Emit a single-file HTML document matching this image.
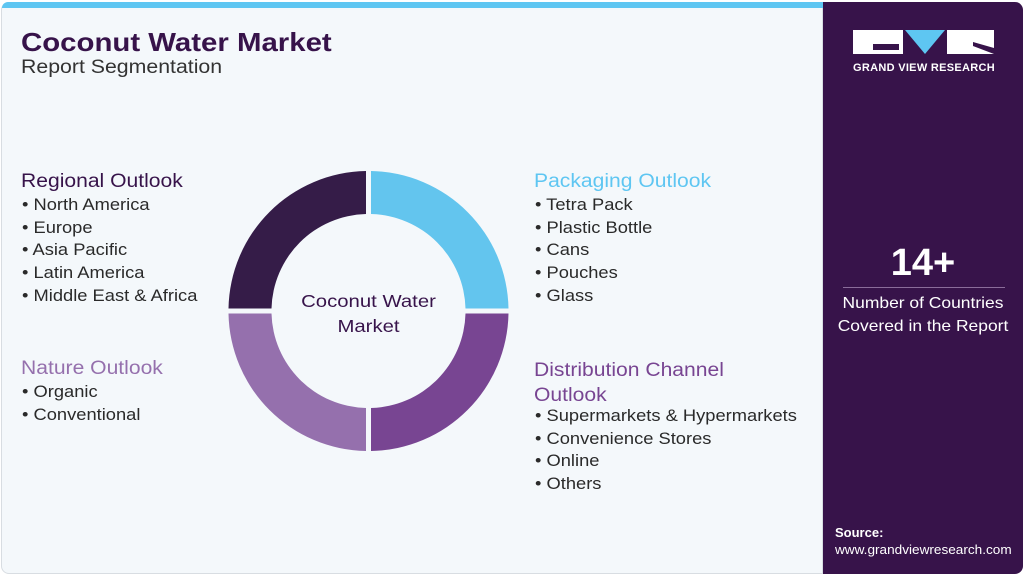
<!DOCTYPE html>
<html><head><meta charset="utf-8"><style>
body{margin:0;width:1025px;height:576px;overflow:hidden;background:#fff;font-family:"Liberation Sans",sans-serif;}
.main{position:absolute;left:1px;top:2px;width:822px;height:572px;background:#f4f8fb;border:1px solid #d8dde2;border-radius:8px 0 0 8px;box-sizing:border-box;}
.bar{position:absolute;left:2px;top:2px;width:821px;height:6px;background:#5ec6f2;border-radius:6px 0 0 0;}
.side{position:absolute;left:823px;top:2px;width:200px;height:572px;background:#37134a;border-radius:0 8px 8px 0;}
.t{position:absolute;white-space:nowrap;transform-origin:0 0;}
.s{transform:scaleX(1.11);}
.h{font-size:19px;}
.li{font-size:16.5px;color:#2a2a2a;line-height:22.7px;}
</style></head><body>
<div class="main"></div><div class="bar"></div>
<div class="side">
 <svg style="position:absolute;left:30px;top:28px" width="142" height="26">
  <path d="M0 0H50V24H0Z M20 14H46V20H20Z" fill="#fff" fill-rule="evenodd"/>
  <polygon points="52,0 92,0 72,24" fill="#5ec6f2"/>
  <path d="M94 0H141V24H94Z" fill="#fff"/>
  <polygon points="120,12 141,18 141,24 120,16" fill="#37134a"/>
 </svg>
 <div class="t" style="left:30px;top:60px;color:#fff;font-size:11px;font-weight:bold;letter-spacing:0.3px">GRAND VIEW RESEARCH</div>
 <div class="t" style="left:0;width:200px;text-align:center;top:240px;color:#fff;font-size:38px;font-weight:bold">14+</div>
 <div style="position:absolute;left:20px;width:162px;top:285px;border-top:1px solid #8a6c9a"></div>
 <div class="t" style="left:0;width:200px;text-align:center;top:290px;color:#fff;font-size:16px;line-height:23px;transform:scaleX(1.09);transform-origin:100px 0">Number of Countries<br>Covered in the Report</div>
 <div class="t" style="left:12px;top:523px;color:#fff;font-size:13px;font-weight:bold">Source:</div>
 <div class="t" style="left:12px;top:540px;color:#fff;font-size:13px;transform:scaleX(1.045)">www.grandviewresearch.com</div>
</div>
<div class="t" style="left:21px;top:27px;font-size:26px;font-weight:900;color:#37134a;transform:scaleX(1.13)">Coconut Water Market</div>
<div class="t" style="left:21px;top:57px;font-size:19px;color:#333;transform:scaleX(1.12)">Report Segmentation</div>

<div class="t h s" style="left:21px;top:171px;color:#37134a">Regional Outlook</div>
<div class="t li s" style="left:22px;top:194px">• North America<br>• Europe<br>• Asia Pacific<br>• Latin America<br>• Middle East &amp; Africa</div>
<div class="t h s" style="left:21px;top:358px;color:#9570ad">Nature Outlook</div>
<div class="t li s" style="left:22px;top:381px">• Organic<br>• Conventional</div>
<div class="t h s" style="left:534px;top:171px;color:#5ec6f2">Packaging Outlook</div>
<div class="t li s" style="left:535px;top:194px">• Tetra Pack<br>• Plastic Bottle<br>• Cans<br>• Pouches<br>• Glass</div>
<div class="t h s" style="left:534px;top:358px;color:#784592;line-height:25px">Distribution Channel<br>Outlook</div>
<div class="t li s" style="left:535px;top:405px">• Supermarkets &amp; Hypermarkets<br>• Convenience Stores<br>• Online<br>• Others</div>

<svg style="position:absolute;left:0;top:0" width="823" height="576">
 <g transform="translate(368.5,311)">
  <path d="M2.5,-140 A140,140 0 0 1 140,-2.5 L97,-2.5 A97,97 0 0 0 2.5,-97 Z" fill="#63c5ee"/>
  <path d="M140,2.5 A140,140 0 0 1 2.5,140 L2.5,97 A97,97 0 0 0 97,2.5 Z" fill="#784592"/>
  <path d="M-2.5,140 A140,140 0 0 1 -140,2.5 L-97,2.5 A97,97 0 0 0 -2.5,97 Z" fill="#9570ad"/>
  <path d="M-140,-2.5 A140,140 0 0 1 -2.5,-140 L-2.5,-97 A97,97 0 0 0 -97,-2.5 Z" fill="#351c48"/>
  <g transform="scale(1.13,1)">
  <text x="0" y="-4" text-anchor="middle" font-family="Liberation Sans, sans-serif" font-size="18" fill="#37134a">Coconut Water</text>
  <text x="0" y="21" text-anchor="middle" font-family="Liberation Sans, sans-serif" font-size="18" fill="#37134a">Market</text>
  </g>
 </g>
</svg>
</body></html>
